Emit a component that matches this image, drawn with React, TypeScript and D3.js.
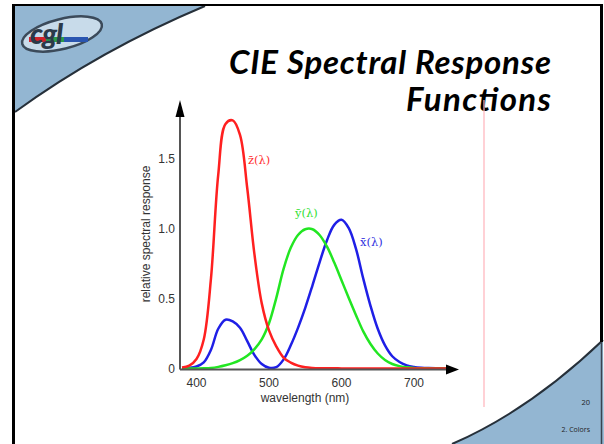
import React from 'react';
import * as d3 from 'd3';

// CIE 1931 colour matching functions, read at 10nm steps
const wavelengths = [380, 390, 400, 410, 420, 430, 440, 450, 460, 470, 480, 490, 500, 510, 520, 530, 540, 550, 560, 570, 580, 590, 600, 610, 620, 630, 640, 650, 660, 670, 680, 690, 700, 710, 720, 730, 740, 750];
const xBar = [0.0014, 0.0042, 0.0143, 0.0435, 0.1344, 0.2839, 0.3483, 0.3362, 0.2908, 0.1954, 0.0956, 0.032, 0.0049, 0.0093, 0.0633, 0.1655, 0.2904, 0.4334, 0.5945, 0.7621, 0.9163, 1.0263, 1.0622, 1.0026, 0.8544, 0.6424, 0.4479, 0.2835, 0.1649, 0.0874, 0.0468, 0.0227, 0.0114, 0.0058, 0.0029, 0.0014, 0.0007, 0.0003];
const yBar = [0.0, 0.0001, 0.0004, 0.0012, 0.004, 0.0116, 0.023, 0.038, 0.06, 0.091, 0.139, 0.208, 0.323, 0.503, 0.71, 0.862, 0.954, 0.995, 0.995, 0.952, 0.87, 0.757, 0.631, 0.503, 0.381, 0.265, 0.175, 0.107, 0.061, 0.032, 0.017, 0.0082, 0.0041, 0.0021, 0.001, 0.0005, 0.0002, 0.0001];
const zBar = [0.0065, 0.0201, 0.0679, 0.2074, 0.6456, 1.3856, 1.7471, 1.7721, 1.6692, 1.2876, 0.813, 0.4652, 0.272, 0.1582, 0.0782, 0.0422, 0.0203, 0.0087, 0.0039, 0.0021, 0.0017, 0.0011, 0.0008, 0.0003, 0.0002, 0, 0, 0, 0, 0, 0, 0, 0, 0, 0, 0, 0, 0];

const xTicks = [400, 500, 600, 700];
const yTicks = [0, 0.5, 1.0, 1.5];
const yTickLabels = ['0', '0.5', '1.0', '1.5'];

const series = [
  { name: 'x', values: xBar, color: '#1f1fe6', label: 'x\u0304(\u03bb)' },
  { name: 'y', values: yBar, color: '#22e622', label: 'y\u0304(\u03bb)' },
  { name: 'z', values: zBar, color: '#ff2020', label: 'z\u0304(\u03bb)' },
];

const App = () => {
  const W = 604;
  const H = 444;
  const x = d3.scaleLinear().domain([400, 700]).range([196.5, 414]);
  const y = d3.scaleLinear().domain([0, 1.5]).range([368.5, 158.5]);

  const line = (vals: number[]) =>
    d3
      .line<number>()
      .x((_, i) => x(wavelengths[i]))
      .y(d => y(d))
      .curve(d3.curveCatmullRom)(vals) || '';

  const axisY = y(0) + 1;
  const axisX = 180;

  return (
    <svg width={W} height={H} style={{ position: 'absolute', left: 0, top: 0, background: '#fff' }}>
      {/* slide decoration */}
      <path d="M15,6 L205,6 Q100,50 15,112 Z" fill="#93b6d2" />
      <path d="M205,6 Q100,50 15,112" fill="none" stroke="#26303a" strokeWidth={2} />
      <path d="M452,444 Q530,410 603,340 L604,444 Z" fill="#93b6d2" />
      <path d="M452,444 Q530,410 603,340" fill="none" stroke="#26303a" strokeWidth={2} />
      <line x1={13.5} y1={4} x2={13.5} y2={H} stroke="#000" strokeWidth={3} />
      <line x1={12} y1={5} x2={603} y2={5} stroke="#000" strokeWidth={2} />
      <line x1={601.5} y1={4} x2={601.5} y2={342} stroke="#000" strokeWidth={3} />
      <line x1={601.5} y1={342} x2={601.5} y2={H} stroke="#3a4450" strokeWidth={1.5} />

      {/* logo */}
      <g>
        <ellipse cx={62} cy={34} rx={41} ry={15} transform="rotate(-14 62 34)" fill="#c8dbea" stroke="#3b4a5a" strokeWidth={2.5} />
        <rect x={29} y={37} width={17} height={5} fill="#d0232a" />
        <rect x={46} y={37} width={18} height={5} fill="#2a9a4a" />
        <rect x={64} y={37} width={24} height={5} fill="#2a55b0" />
        <text x={30} y={44} fontFamily="Lato, sans-serif" fontStyle="italic" fontWeight={900} fontSize={29} fill="#2b3a4a" letterSpacing={-1}>cgl</text>
      </g>

      {/* title */}
      <g fontFamily="Lato, 'Open Sans', sans-serif" fontStyle="italic" fontWeight={700} fontSize={33} fill="#000" textAnchor="end">
        <text x={551} y={74} textLength={322} lengthAdjust="spacing">CIE Spectral Response</text>
        <text x={551} y={111} textLength={145} lengthAdjust="spacing">Functions</text>
      </g>

      {/* pink guide line */}
      <line x1={484} y1={100} x2={484} y2={407} stroke="#ffb3ba" strokeWidth={1.2} />

      {/* curves */}
      {series.map(s => (
        <path key={s.name} d={line(s.values)} fill="none" stroke={s.color} strokeWidth={2.5} strokeLinejoin="round" />
      ))}

      {/* axes */}
      <line x1={axisX} y1={axisY} x2={446} y2={axisY} stroke="#555" strokeWidth={2} />
      <path d={`M446,${axisY - 5} L459,${axisY} L446,${axisY + 5} Z`} fill="#000" />
      <line x1={axisX} y1={axisY} x2={axisX} y2={115} stroke="#555" strokeWidth={2} />
      <path d={`M${axisX - 4.5},117 L${axisX},100 L${axisX + 4.5},117 Z`} fill="#000" />

      <g fontFamily="'Liberation Sans', Arial, sans-serif" fontSize={12} fill="#333">
        {xTicks.map(t => (
          <text key={t} x={x(t)} y={387} textAnchor="middle">{t}</text>
        ))}
        {yTicks.map((t, i) => (
          <text key={t} x={175} y={y(t) + 4} textAnchor="end">{yTickLabels[i]}</text>
        ))}
        <text x={305} y={402} textAnchor="middle">wavelength (nm)</text>
        <text transform="translate(150,234) rotate(-90)" textAnchor="middle">relative spectral response</text>
      </g>

      {/* curve labels */}
      <g fontFamily="'DejaVu Serif', 'Liberation Serif', serif" fontSize={11.5}>
        <text x={248} y={164} fill="#ff3030">{series[2].label}</text>
        <text x={295} y={217} fill="#30e030">{series[1].label}</text>
        <text x={360} y={246} fill="#3030e0">{series[0].label}</text>
      </g>

      {/* footer */}
      <text x={590} y={405} textAnchor="end" fontFamily="'Open Sans', sans-serif" fontSize={7.5} fill="#222">20</text>
      <text x={590} y={432} textAnchor="end" fontFamily="'Open Sans', sans-serif" fontSize={7} fill="#222">2. Colors</text>
    </svg>
  );
};

export default App;
